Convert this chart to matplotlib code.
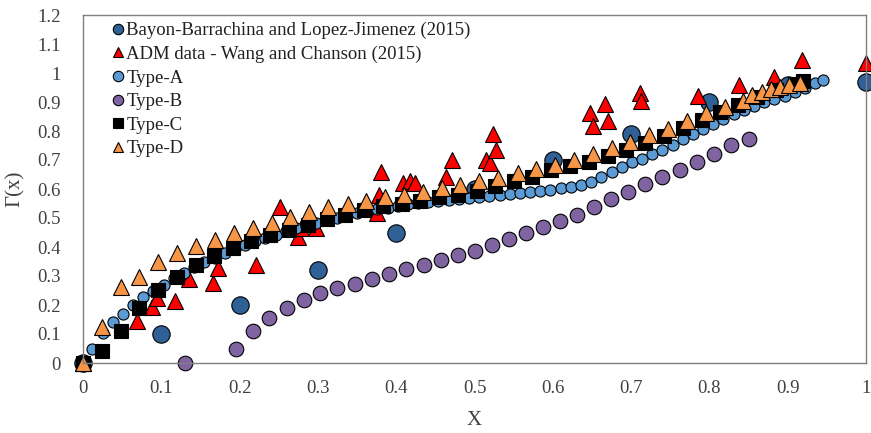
import numpy as np
import matplotlib
matplotlib.use("Agg")
import matplotlib.pyplot as plt
from matplotlib.ticker import FuncFormatter, MultipleLocator

plt.rcParams['font.family'] = ['Liberation Serif', 'DejaVu Serif']

# Bayon-Barrachina and Lopez-Jimenez (2015)
bayon_x = [0.0, 0.1, 0.2, 0.3, 0.4, 0.5, 0.6, 0.7, 0.8, 0.9, 1.0]
bayon_y = [0.0, 0.1, 0.2, 0.32, 0.45, 0.6, 0.7, 0.79, 0.9, 0.96, 0.97]

# ADM data - Wang and Chanson (2015)
adm_x = [0.0, 0.069, 0.088, 0.095, 0.117, 0.136, 0.166, 0.173, 0.221, 0.251,
         0.275, 0.278, 0.298, 0.375, 0.378, 0.381, 0.409, 0.418, 0.424, 0.464,
         0.471, 0.515, 0.52, 0.524, 0.528, 0.648, 0.651, 0.667, 0.671, 0.711,
         0.713, 0.786, 0.838, 0.883, 0.918, 1.0]
adm_y = [0.0, 0.145, 0.194, 0.223, 0.214, 0.29, 0.277, 0.326, 0.338, 0.539,
         0.435, 0.464, 0.464, 0.516, 0.579, 0.66, 0.619, 0.626, 0.619, 0.643,
         0.7, 0.7, 0.688, 0.79, 0.734, 0.861, 0.816, 0.893, 0.833, 0.93,
         0.904, 0.919, 0.957, 0.987, 1.045, 1.036]

# Type-A
a_x = [0.0, 0.012, 0.025, 0.038, 0.051, 0.064, 0.077, 0.09, 0.103, 0.116,
       0.129, 0.142, 0.155, 0.168, 0.181, 0.194, 0.207, 0.22, 0.233, 0.246,
       0.259, 0.272, 0.285, 0.298, 0.311, 0.324, 0.337, 0.35, 0.363, 0.376,
       0.389, 0.402, 0.415, 0.428, 0.441, 0.454, 0.467, 0.48, 0.493, 0.506,
       0.519, 0.532, 0.545, 0.558, 0.571, 0.584, 0.597, 0.61, 0.623, 0.636,
       0.649, 0.662, 0.675, 0.688, 0.701, 0.714, 0.727, 0.74, 0.753, 0.766,
       0.779, 0.792, 0.805, 0.818, 0.831, 0.844, 0.857, 0.87, 0.883, 0.896,
       0.909, 0.922, 0.935, 0.945]
a_y = [0.0, 0.05, 0.105, 0.14, 0.17, 0.2, 0.228, 0.25, 0.27, 0.292,
       0.312, 0.33, 0.347, 0.363, 0.38, 0.394, 0.408, 0.42, 0.432, 0.443,
       0.454, 0.464, 0.474, 0.483, 0.492, 0.5, 0.508, 0.516, 0.523, 0.53,
       0.536, 0.542, 0.547, 0.552, 0.556, 0.56, 0.563, 0.566, 0.569, 0.572,
       0.576, 0.579, 0.583, 0.587, 0.59, 0.594, 0.598, 0.603, 0.608, 0.614,
       0.625, 0.642, 0.66, 0.675, 0.692, 0.704, 0.72, 0.735, 0.752, 0.772,
       0.79, 0.807, 0.823, 0.84, 0.858, 0.873, 0.887, 0.9, 0.91, 0.922,
       0.935, 0.95, 0.965, 0.975]

# Type-B
b_x = [0.13, 0.195, 0.217, 0.238, 0.26, 0.282, 0.303, 0.325, 0.347, 0.369,
       0.391, 0.413, 0.435, 0.457, 0.479, 0.5, 0.522, 0.544, 0.566, 0.588,
       0.609, 0.631, 0.652, 0.674, 0.696, 0.718, 0.74, 0.762, 0.784, 0.806,
       0.828, 0.85]
b_y = [0.0, 0.05, 0.112, 0.155, 0.19, 0.218, 0.24, 0.258, 0.274, 0.289,
       0.307, 0.323, 0.339, 0.355, 0.374, 0.385, 0.406, 0.427, 0.447, 0.469,
       0.49, 0.512, 0.538, 0.566, 0.588, 0.616, 0.642, 0.667, 0.694, 0.722,
       0.751, 0.771]

# Type-C
c_x = [0.0, 0.024, 0.048, 0.072, 0.096, 0.12, 0.144, 0.167, 0.191, 0.215,
       0.239, 0.263, 0.287, 0.311, 0.335, 0.359, 0.383, 0.407, 0.431, 0.455,
       0.479, 0.503, 0.526, 0.55, 0.574, 0.598, 0.622, 0.646, 0.67, 0.694,
       0.718, 0.742, 0.766, 0.79, 0.813, 0.837, 0.861, 0.885, 0.909, 0.92]
c_y = [0.0, 0.042, 0.11, 0.188, 0.252, 0.298, 0.338, 0.369, 0.395, 0.42,
       0.441, 0.46, 0.477, 0.495, 0.51, 0.527, 0.54, 0.55, 0.56, 0.571,
       0.58, 0.592, 0.609, 0.626, 0.641, 0.666, 0.679, 0.692, 0.713, 0.734,
       0.759, 0.783, 0.809, 0.838, 0.866, 0.89, 0.917, 0.94, 0.962, 0.972]

# Type-D
d_x = [0.0, 0.024, 0.048, 0.072, 0.096, 0.12, 0.144, 0.169, 0.193, 0.217,
       0.241, 0.265, 0.289, 0.313, 0.338, 0.361, 0.386, 0.41, 0.434, 0.458,
       0.482, 0.506, 0.53, 0.555, 0.579, 0.603, 0.627, 0.651, 0.675, 0.699,
       0.723, 0.747, 0.771, 0.796, 0.82, 0.843, 0.855, 0.867, 0.879, 0.89,
       0.902, 0.916]
d_y = [0.0, 0.125, 0.263, 0.298, 0.349, 0.38, 0.403, 0.424, 0.449, 0.464,
       0.484, 0.503, 0.52, 0.539, 0.548, 0.56, 0.574, 0.579, 0.591, 0.602,
       0.614, 0.626, 0.637, 0.654, 0.668, 0.683, 0.7, 0.721, 0.743, 0.763,
       0.786, 0.806, 0.833, 0.861, 0.882, 0.905, 0.924, 0.936, 0.944, 0.953,
       0.959, 0.966]

fig = plt.figure(figsize=(8.71, 4.33), dpi=100)
ax = fig.add_axes([83 / 871, 70 / 433, 783 / 871, 348 / 433])

series = [
    (bayon_x, bayon_y, "o", 12.5, "#2F6096", "Bayon-Barrachina and Lopez-Jimenez (2015)"),
    (adm_x, adm_y, "^", 12, "#FF0000", "ADM data - Wang and Chanson (2015)"),
    (a_x, a_y, "o", 8, "#5B9BD5", "Type-A"),
    (b_x, b_y, "o", 10.5, "#8064A2", "Type-B"),
    (c_x, c_y, "s", 10.5, "#000000", "Type-C"),
    (d_x, d_y, "^", 11, "#F79646", "Type-D"),
]
for xs, ys, mk, ms, col, lab in series:
    ax.plot(xs, ys, linestyle="none", marker=mk, markersize=ms,
            markerfacecolor=col, markeredgecolor="black", markeredgewidth=0.8,
            label=lab, clip_on=False)

ax.set_xlim(0, 1)
ax.set_ylim(0, 1.2)
ax.xaxis.set_major_locator(MultipleLocator(0.1))
ax.yaxis.set_major_locator(MultipleLocator(0.1))
fmt = FuncFormatter(lambda v, p: "%g" % round(v, 2))
ax.xaxis.set_major_formatter(fmt)
ax.yaxis.set_major_formatter(fmt)
ax.tick_params(axis="x", length=0, labelsize=13.5, colors="#404040", pad=12)
ax.tick_params(axis="y", length=0, labelsize=13.5, colors="#404040", pad=16)
for s in ax.spines.values():
    s.set_color("#7f7f7f")
    s.set_linewidth(1.0)

ax.set_xlabel("X", fontsize=15, color="#404040", labelpad=10)
ax.set_ylabel("Γ(x)", fontsize=15, color="#404040", labelpad=9)

leg = ax.legend(loc="upper left", bbox_to_anchor=(0.023, 1.012), frameon=False,
                fontsize=13.5, handlelength=0.6, handletextpad=0.15,
                labelspacing=0.34, borderaxespad=0.2)
for h in leg.legend_handles:
    h.set_markersize(7.5)
for t in leg.get_texts():
    t.set_color("#202020")

fig.savefig("out.png", dpi=100)
